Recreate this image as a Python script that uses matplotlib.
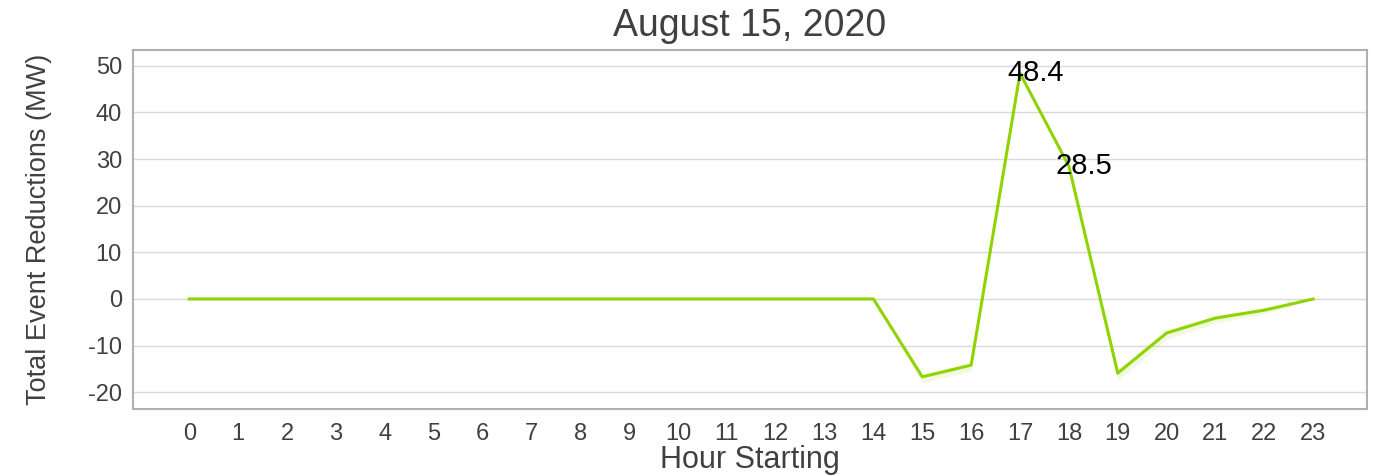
import matplotlib
matplotlib.use('Agg')
import matplotlib.pyplot as plt

plt.rcParams['font.family'] = ['Liberation Sans', 'DejaVu Sans']
plt.rcParams['axes.unicode_minus'] = False

# hourly event reductions, MW
hours = list(range(24))
reductions = [0, 0, 0, 0, 0, 0, 0, 0, 0, 0, 0, 0, 0, 0, 0,
              -16.7, -14.2, 48.4, 28.5, -15.9, -7.3, -4.1, -2.4, 0]
# faint uncertainty band around the line
band_low = [0, 0, 0, 0, 0, 0, 0, 0, 0, 0, 0, 0, 0, 0, 0,
            -18.0, -15.4, 48.4, 28.5, -17.6, -8.6, -5.2, -3.2, 0]
band_high = [0, 0, 0, 0, 0, 0, 0, 0, 0, 0, 0, 0, 0, 0, 0,
             -16.2, -13.6, 48.4, 28.5, -15.0, -6.6, -3.5, -1.8, 0]
labelled = {17: '48.4', 18: '28.5'}

fig = plt.figure(figsize=(13.76, 4.76), dpi=100)
ax = fig.add_axes([133/1376, 1 - 409/476, (1367-133)/1376, (409-50)/476])

ax.fill_between(hours, band_low, band_high, color='#8fd400', alpha=0.12, linewidth=0)
ax.plot(hours, reductions, color='#8fd400', linewidth=2.2)

for h, txt in labelled.items():
    ax.annotate(txt, (h, reductions[h]), xytext=(11, 0), textcoords='offset points',
                ha='center', va='center', fontsize=21, color='black')

ax.set_xlim(-1.15, 24.1)
ax.set_ylim(-23.6, 53.4)
ax.set_xticks(hours)
ax.set_yticks(range(-20, 51, 10))
ax.tick_params(length=0, labelsize=17, colors='#404040')
ax.tick_params(axis='x', pad=10)
ax.tick_params(axis='y', pad=8)
ax.grid(axis='y', color='#d9d9d9', linewidth=1)
ax.set_axisbelow(True)
for s in ax.spines.values():
    s.set_color('#b0b0b0')
    s.set_linewidth(1.5)

ax.set_title('August 15, 2020', fontsize=27, color='#404040', pad=10)
ax.set_xlabel('Hour Starting', fontsize=22, color='#404040', labelpad=0)
ax.set_ylabel('Total Event Reductions (MW)', fontsize=19.5, color='#404040', labelpad=26)

fig.savefig('out.png', dpi=100)
